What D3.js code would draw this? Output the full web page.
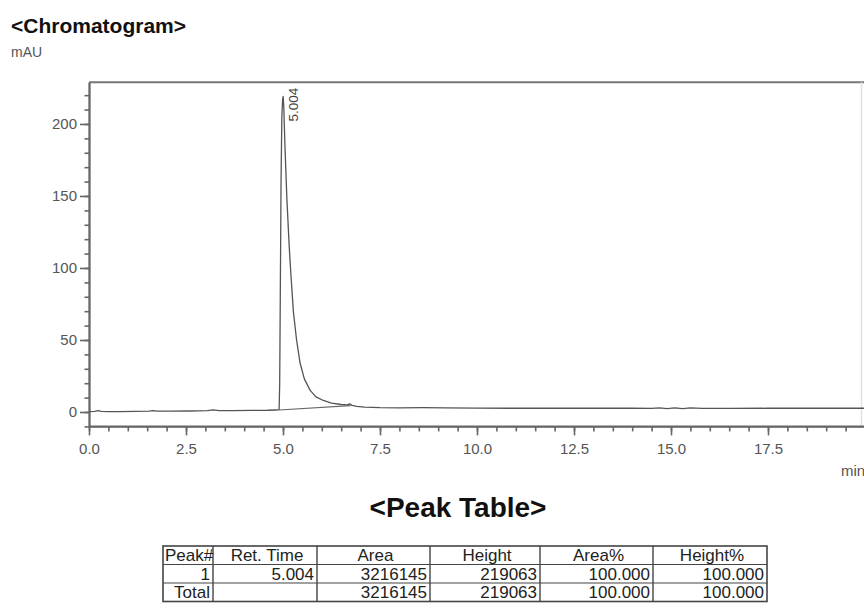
<!DOCTYPE html>
<html>
<head>
<meta charset="utf-8">
<script src="https://cdn.jsdelivr.net/npm/d3@7"></script>
<style>
  html, body { margin: 0; padding: 0; background: #fff; }
  svg { display: block; font-family: Arial, "Liberation Sans", sans-serif; }
</style>
</head>
<body>
<svg id="chart" width="864" height="611"></svg>
<script>
// Detector signal (retention time in min, absorbance in mAU)
const retentionTimes = [
  0.00, 0.15, 0.23, 0.32, 0.50, 0.80, 1.20, 1.55, 1.65, 1.75, 2.10, 2.60,
  3.05, 3.20, 3.35, 3.70, 4.20, 4.60, 4.80, 4.88, 4.90, 4.915, 4.93, 4.95,
  4.97, 4.99, 5.004, 5.02, 5.05, 5.10, 5.16, 5.20, 5.27, 5.35, 5.44, 5.55,
  5.70, 5.85, 6.04, 6.25, 6.50, 6.65, 6.72, 6.78, 6.90, 7.10, 7.50, 8.00,
  8.60, 9.20, 10.00, 11.00, 12.00, 13.00, 14.00, 14.50, 14.70, 14.90, 15.10,
  15.30, 15.50, 15.80, 16.50, 17.50, 18.50, 19.50, 20.00
];
const signalMAU = [
  0.3, 0.5, 1.0, 0.4, 0.2, 0.3, 0.5, 0.6, 1.0, 0.6, 0.6, 0.7,
  0.9, 1.5, 1.0, 1.0, 1.1, 1.2, 1.4, 1.5, 1.6, 20, 80, 160,
  205, 217, 219.063, 212, 185, 148, 115, 97, 69, 50, 34, 23,
  15, 10.5, 8.0, 6.2, 5.2, 5.0, 5.7, 4.6, 3.9, 3.4, 3.0, 2.9,
  3.0, 2.8, 2.7, 2.6, 2.6, 2.6, 2.6, 2.5, 2.9, 2.3, 2.8,
  2.3, 2.8, 2.5, 2.5, 2.6, 2.6, 2.6, 2.6
];

// Integration baseline drawn under the peak
const baselineTimes = [4.90, 6.74];
const baselineMAU = [1.4, 4.4];

// Peak annotation
const peakLabelTime = 5.004;
const peakLabelHeight = 219.063;
const peakLabelText = "5.004";

// Axes
const xTickValues = [0, 2.5, 5, 7.5, 10, 12.5, 15, 17.5];
const xTickLabels = ["0.0", "2.5", "5.0", "7.5", "10.0", "12.5", "15.0", "17.5"];
const yTickValues = [0, 50, 100, 150, 200];
const yTickLabels = ["0", "50", "100", "150", "200"];

// Peak table
const tableHeaders = ["Peak#", "Ret. Time", "Area", "Height", "Area%", "Height%"];
const peakRow = ["1", "5.004", "3216145", "219063", "100.000", "100.000"];
const totalRow = ["Total", "", "3216145", "219063", "100.000", "100.000"];

const svg = d3.select("#chart");

// Headings
svg.append("text")
  .attr("x", 11).attr("y", 33)
  .attr("font-size", 21).attr("font-weight", "bold").attr("fill", "#111")
  .text("<Chromatogram>");
svg.append("text")
  .attr("x", 11).attr("y", 57)
  .attr("font-size", 14).attr("fill", "#555")
  .text("mAU");

// Scales
const x = d3.scaleLinear().domain([0, 20]).range([89, 865]);
const y = d3.scaleLinear().domain([-10, 229]).range([426.4, 82.2]);

const axisColor = "#666";
const labelColor = "#555";

// Frame: top and right border
svg.append("line")
  .attr("x1", x(0)).attr("x2", 864).attr("y1", y(229)).attr("y2", y(229))
  .attr("stroke", "#777").attr("stroke-width", 2);
svg.append("line")
  .attr("x1", 861.5).attr("x2", 861.5).attr("y1", y(229)).attr("y2", y(-10))
  .attr("stroke", "#e2e2e2").attr("stroke-width", 1.5);

// Minor ticks
const gxMinor = svg.append("g").attr("transform", `translate(0,${y(-10)})`)
  .call(d3.axisBottom(x).tickValues(d3.range(0, 20.01, 0.5)).tickSize(5).tickSizeOuter(0).tickFormat(""));
const gyMinor = svg.append("g").attr("transform", `translate(${x(0)},0)`)
  .call(d3.axisLeft(y).tickValues(d3.range(-10, 229, 10)).tickSize(4.5).tickSizeOuter(0).tickFormat(""));

// Major ticks with labels
const gx = svg.append("g").attr("transform", `translate(0,${y(-10)})`)
  .call(d3.axisBottom(x).tickValues(xTickValues).tickSize(9).tickSizeOuter(0).tickPadding(8)
    .tickFormat((d, i) => xTickLabels[i]));
const gy = svg.append("g").attr("transform", `translate(${x(0)},0)`)
  .call(d3.axisLeft(y).tickValues(yTickValues).tickSize(9).tickSizeOuter(0).tickPadding(3)
    .tickFormat((d, i) => yTickLabels[i]));

[gxMinor, gyMinor, gx, gy].forEach(g => {
  g.selectAll("path.domain").attr("stroke", axisColor).attr("stroke-width", 1.8);
  g.selectAll(".tick line").attr("stroke", axisColor).attr("stroke-width", 1.6);
  g.selectAll(".tick text").attr("fill", labelColor).attr("font-size", 15)
    .attr("font-family", "Arial, 'Liberation Sans', sans-serif");
});
gx.select("path.domain").attr("d", `M${x(0)},0H864`);

svg.append("text")
  .attr("x", 841).attr("y", 476)
  .attr("font-size", 15).attr("fill", labelColor)
  .text("min");

// Signal trace
const points = retentionTimes.map((t, i) => [t, signalMAU[i]]);
const line = d3.line().x(d => x(d[0])).y(d => y(d[1]));
svg.append("path")
  .datum(points)
  .attr("d", line)
  .attr("fill", "none").attr("stroke", "#555").attr("stroke-width", 1.3)
  .attr("stroke-linejoin", "round");

// Integration baseline
svg.append("path")
  .datum(baselineTimes.map((t, i) => [t, baselineMAU[i]]))
  .attr("d", line)
  .attr("fill", "none").attr("stroke", "#666").attr("stroke-width", 1.1);

// Retention time label on the peak
svg.append("text")
  .attr("transform", `translate(${x(peakLabelTime) + 15},${y(peakLabelHeight) + 25}) rotate(-90)`)
  .attr("font-size", 13.5).attr("fill", "#444")
  .text(peakLabelText);

// Peak table heading
svg.append("text")
  .attr("x", 458).attr("y", 517)
  .attr("text-anchor", "middle")
  .attr("font-size", 28).attr("font-weight", "bold").attr("fill", "#111")
  .text("<Peak Table>");

// Peak table grid
const colEdges = [163, 213, 317, 430, 540, 653, 767];
const rowEdges = [546, 564.5, 583, 601.5];
const table = svg.append("g");
const tableRows = [tableHeaders, peakRow, totalRow];

table.append("rect")
  .attr("x", colEdges[0]).attr("y", rowEdges[0])
  .attr("width", colEdges[6] - colEdges[0]).attr("height", rowEdges[3] - rowEdges[0])
  .attr("fill", "none").attr("stroke", "#444").attr("stroke-width", 1.6);
colEdges.slice(1, -1).forEach(cx => {
  table.append("line")
    .attr("x1", cx).attr("x2", cx).attr("y1", rowEdges[0]).attr("y2", rowEdges[3])
    .attr("stroke", "#444").attr("stroke-width", 1.4);
});
rowEdges.slice(1, -1).forEach(ry => {
  table.append("line")
    .attr("x1", colEdges[0]).attr("x2", colEdges[6]).attr("y1", ry).attr("y2", ry)
    .attr("stroke", "#444").attr("stroke-width", 1.2);
});

tableRows.forEach((row, r) => {
  row.forEach((cell, c) => {
    if (!cell) return;
    const left = colEdges[c], right = colEdges[c + 1];
    let tx, anchor;
    if (r === 0) {
      if (c === 0) { tx = left + 2; anchor = "start"; }
      else { tx = (left + right) / 2 + 2; anchor = "middle"; }
    } else {
      tx = right - 3; anchor = "end";
    }
    table.append("text")
      .attr("x", tx).attr("y", rowEdges[r + 1] - 3.5)
      .attr("text-anchor", anchor)
      .attr("font-size", 17).attr("fill", "#222")
      .text(cell);
  });
});
</script>
</body>
</html>
